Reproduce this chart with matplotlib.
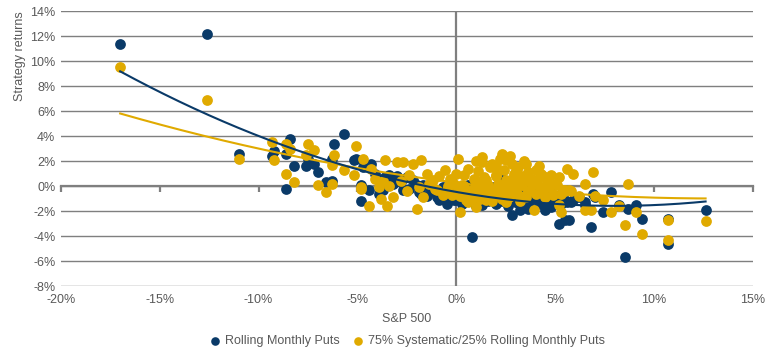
import numpy as np
import matplotlib.pyplot as plt
from matplotlib.ticker import FuncFormatter

plt.rcParams['font.family'] = ['Liberation Sans', 'DejaVu Sans']

# S&P 500 monthly return (%) and the two strategy returns (%) for the same month
sp500 = [-17.0, -12.6, -11.0, -9.3, -9.2, -8.6, -8.4, -8.6, -8.2, -7.6,
         -7.5, -7.2, -7.0, -6.6, -6.3, -6.2, -6.3, -5.7, -5.1, -5.2,
         -4.7, -4.3, -4.8, -4.8, -4.4, -3.9, -3.8, -3.5, -3.6, -3.2,
         -3.0, -3.7, -2.7, -2.2, -2.0, -1.8, -1.9, -1.5, -1.2, -1.0,
         -0.9, -0.5, -0.3, 0.0, -0.1, 0.1, 0.2, 0.5, 0.8,
         1.3, 1.8, 2.2, 2.3, 2.8, 3.5, 4.0, 4.3, 5.2, 3.6,
         3.9, 4.5, 5.3, 5.2, 5.5, 3.7, 4.1, 4.7, 5.5, 5.4,
         4.9, 1.5, 1.0, 0.6, 0.4, 0.9, 1.1, 1.4, 1.6, 1.7,
         2.0, 2.1, 2.4, 2.5, 2.6, 2.7, 2.9, 3.0, 3.1, 3.2,
         3.3, 3.4, 3.6, 3.8, 4.2, 4.4, 4.6, 4.8, 5.0, 0.3,
         0.7, 1.2, 1.9, 2.3, 2.8, 3.5, 1.0, 1.3, 2.0, 2.5,
         3.0, -0.6, -0.2, -1.4, -2.4, -2.8, -3.4, -4.1,
         0.2, 0.4, 0.6, 0.8, 1.0, 1.1, 1.2, 1.4, 1.5, 1.6,
         1.8, 1.9, 2.0, 2.1, 2.2, 2.4, 2.5, 2.6, 2.7, 2.9,
         3.0, 3.1, 3.3, 3.4, 3.6, 3.7, 3.9, 4.0, 4.2, 4.4,
         4.5, 4.7, 4.9, 5.1, 5.3, 5.8, 6.2, -0.4, -0.7, -1.1,
         -1.7, -2.5,
         0.1, 0.3, 0.35, 0.55, 0.7, 0.85, 0.95, 1.15, 1.25, 1.45,
         1.55, 1.75, 1.85, 2.05, 2.15, 2.35, 2.55, 2.65, 2.85, 3.05,
         5.6, 5.9, 6.9, 6.5, 8.7, 5.7, 6.8, 6.5, 7.0, 7.4,
         7.8, 8.2, 9.1, 9.4, 8.5, 10.7, 10.7, 12.6]
rolling_puts = [11.4, 12.2, 2.6, 2.4, 2.8, 2.6, 3.8, -0.2, 1.6, 1.6,
                2.2, 1.8, 1.1, 0.3, 0.4, 3.4, 2.2, 4.2, 2.2, 2.1,
                1.5, 1.8, 0.1, -1.2, -0.3, -0.6, 0.5, 0.7, 0.7, 0.2,
                0.8, -0.3, -0.3, 0.5, 0.1, -0.6, -0.5, -0.8, -0.4, -0.9,
                -1.1, -1.4, -1.0, -1.1, -1.1, -0.4, -0.8, -0.7, -4.1,
                -1.5, -1.0, -0.5, 0.6, -2.3, -1.2, -0.8, -0.9, -1.0, -1.8,
                -0.9, -1.9, -1.4, -3.0, -2.7, -0.6, -1.0, -0.9, -1.2, -0.9,
                -0.7, -1.1, -0.9, -0.5, -0.3, -0.1, -1.3, -0.6, -1.2, -0.2,
                -1.4, -0.8, -1.1, -0.3, -1.6, -0.9, -0.5, -1.3, -0.7, -1.9,
                -0.2, -1.0, -1.5, -0.4, -1.4, -0.5, -1.1, -1.7, -0.8, -1.4,
                -1.0, -0.4, -1.0, -1.2, -0.6, -0.3, -1.6, -0.7, -0.2, -1.0,
                -0.8, -0.2, -0.8, -0.1, -0.2, 0.3, 0.9, 1.0,
                -0.3, -0.9, 0.1, -0.7, -0.2, -0.6, -1.2, 0.0, -0.5, -0.8,
                -0.1, -1.0, -0.6, -0.3, -1.1, -0.4, -0.9, -0.2, -1.0, -0.5,
                -1.3, -0.1, -0.9, -0.4, -0.7, -1.1, -0.2, -1.0, -0.5, -0.8,
                -1.3, -0.3, -0.9, -1.2, -0.6, -1.3, -0.9, -0.4, -0.1, -0.3,
                0.1, 0.7,
                -0.5, -0.2, -0.6, -0.3, -0.4, -0.6, -0.2, -0.5, -0.3, -0.6,
                -0.4, -0.2, -0.5, -0.3, -0.6, -0.4, -0.5, -0.2, -0.6, -0.3,
                -1.3, -1.1, -0.6, -1.3, -1.8, -2.7, -3.3, -1.5, -0.9, -2.1,
                -0.5, -1.5, -1.5, -2.6, -5.7, -2.6, -4.6, -1.9]
mixed_puts = [9.5, 6.9, 2.2, 3.5, 2.1, 3.4, 3.0, 1.0, 0.3, 2.5,
              3.4, 2.9, 0.1, -0.5, 0.2, 2.5, 1.7, 1.3, 3.2, 0.9,
              2.2, 1.4, -0.2, -0.1, -1.6, -0.1, -1.0, -1.6, 2.1, -0.9,
              1.9, 0.4, 1.9, 1.8, -1.8, 2.1, -0.1, 1.0, 0.5, -0.3,
              0.8, -0.3, 0.6, 1.0, 0.2, 2.2, -2.1, -1.1, -1.0,
              1.9, 1.8, 2.2, 2.6, 1.8, 1.8, 1.3, 1.0, 0.7, -0.4,
              -1.9, -0.8, -2.1, -1.5, -0.4, 0.3, 0.5, 0.0, -0.3, -0.3,
              -0.6, -1.1, 0.4, 1.4, 0.9, 0.6, 1.2, 0.7, 0.1, 1.5,
              0.9, 0.2, 1.3, 0.5, -0.4, 2.4, 1.0, 0.3, 1.5, -1.2,
              0.8, 2.0, 1.1, 0.6, 1.6, -0.2, 0.4, 0.9, 0.2, 0.1,
              -0.6, -0.3, -0.8, -1.0, -0.6, -0.9, 2.0, 2.3, 1.6, 2.1,
              1.2, 1.3, -0.7, 0.2, 0.9, 0.4, 0.0, 0.6,
              -0.8, 0.0, -1.3, -0.5, -1.7, 0.2, -1.0, -0.6, 0.5, -0.3,
              -1.2, -0.5, 0.8, -0.4, -0.8, 0.2, -1.3, 0.2, -0.3, 0.8,
              -0.5, 0.7, 0.1, -0.8, 0.5, -0.4, 0.2, -0.6, 0.0, 0.8,
              -0.9, -0.1, -0.7, 0.1, -0.6, -0.4, -0.8, 0.0, -0.7, -0.2,
              -0.9, -0.4,
              -0.3, -0.8, 0.0, -0.6, -0.9, -0.2, -0.7, -0.4, -0.9, 0.0,
              -0.5, -0.8, -0.3, -0.6, -0.1, -0.7, -0.4, -0.9, -0.2, -0.6,
              1.4, 1.0, 1.1, 0.2, 0.2, -0.3, -1.9, -1.9, -0.8, -1.1,
              -2.1, -1.6, -2.1, -3.8, -3.1, -2.7, -4.3, -2.8]

series_names = ['Rolling Monthly Puts', '75% Systematic/25% Rolling Monthly Puts']
navy = '#0a3a68'
gold = '#e0aa00'
grey = '#7f7f7f'
text_col = '#595959'

x = np.array(sp500) / 100
y1 = np.array(rolling_puts) / 100
y2 = np.array(mixed_puts) / 100

fig = plt.figure(figsize=(7.7, 3.51), dpi=100)
ax = fig.add_axes([0.079, 0.185, 0.899, 0.783])

xmin, xmax, ymin, ymax = -0.20, 0.15, -0.08, 0.14
ax.set_xlim(xmin, xmax)
ax.set_ylim(ymin, ymax)

ax.set_yticks(np.arange(-0.08, 0.1401, 0.02))
ax.set_xticks(np.arange(-0.20, 0.1501, 0.05))
pct = FuncFormatter(lambda v, p: f'{int(round(v * 100))}%')
ax.xaxis.set_major_formatter(pct)
ax.yaxis.set_major_formatter(pct)
ax.tick_params(length=0, labelsize=9, labelcolor=text_col)
ax.tick_params(axis='x', pad=6)
ax.tick_params(axis='y', pad=4)
ax.grid(axis='y', color=grey, lw=1)
ax.set_axisbelow(True)
for s in ax.spines.values():
    s.set_visible(False)

ax.axvline(0, color=grey, lw=1.6, zorder=1)
# zero line with outward ticks
zero = ax.secondary_xaxis((0 - ymin) / (ymax - ymin))
zero.set_xticks(ax.get_xticks())
zero.tick_params(direction='out', length=4, width=1.6, color=grey, labelbottom=False, labeltop=False)
zero.spines['bottom'].set_color(grey)
zero.spines['bottom'].set_linewidth(1.6)

ax.scatter(x, y1, s=60, color=navy, linewidths=0, zorder=3, label=series_names[0])
ax.scatter(x, y2, s=60, color=gold, linewidths=0, zorder=4, label=series_names[1])

# polynomial (order 2) trend lines, as in the spreadsheet
xs = np.linspace(x.min(), x.max(), 200)
for y, c in [(y2, gold), (y1, navy)]:
    coef = np.polyfit(x, y, 2)
    ax.plot(xs, np.polyval(coef, xs), color=c, lw=1.5, zorder=5)

ax.set_xlabel('S&P 500', fontsize=9, color=text_col, labelpad=5)
ax.set_ylabel('Strategy returns', fontsize=9, color=text_col)
ax.yaxis.set_label_coords(-0.051, 0.835)

ax.legend(loc='upper center', bbox_to_anchor=(0.5, -0.155), ncol=2, frameon=False,
          fontsize=9, labelcolor=text_col, handlelength=1.0, handletextpad=0.3,
          columnspacing=0.9, markerscale=0.8, borderpad=0)

fig.savefig('out.png', dpi=100)
